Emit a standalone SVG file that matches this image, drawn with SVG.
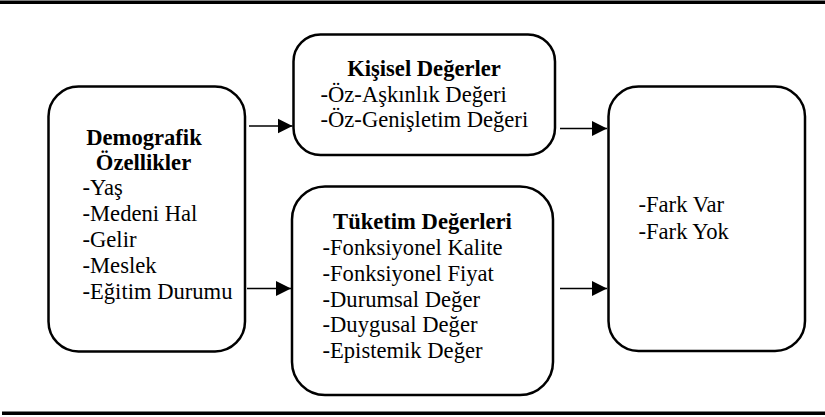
<svg xmlns="http://www.w3.org/2000/svg" width="825" height="417" viewBox="0 0 825 417">
<style>
.box{fill:#fff;stroke:#000;stroke-width:2.5}
text{font-family:'Liberation Serif','Times New Roman',serif;font-size:22.6px;fill:#000}
.h{font-weight:bold}
.c{text-anchor:middle}
.ln{stroke:#000;stroke-width:1.4;fill:none}
.rule{fill:#000}
</style>
<defs>
<marker id="ah" markerUnits="userSpaceOnUse" markerWidth="15" markerHeight="16" refX="15" refY="8" orient="auto">
<path d="M0,0.5 L15,8 L0,15.5 Z" fill="#000"/>
</marker>
</defs>
<rect class="rule" x="0" y="0.5" width="825" height="3.5"/>
<rect class="rule" x="2" y="411.5" width="823" height="3.5"/>
<g id="demografik">
<rect class="box" x="48.5" y="86.5" width="196.5" height="265" rx="30" ry="30"/>
<text class="h c" x="144" y="145">Demografik</text>
<text class="h c" x="143.5" y="170">Özellikler</text>
<text x="82.5" y="195">-Yaş</text>
<text x="82.5" y="221">-Medeni Hal</text>
<text x="82.5" y="247">-Gelir</text>
<text x="82.5" y="273">-Meslek</text>
<text x="82.5" y="299">-Eğitim Durumu</text>
</g>
<g id="kisisel">
<rect class="box" x="293.5" y="34.5" width="261.5" height="120.5" rx="27" ry="27"/>
<text class="h c" x="424" y="76">Kişisel Değerler</text>
<text x="320.5" y="101.5">-Öz-Aşkınlık Değeri</text>
<text x="320.5" y="127">-Öz-Genişletim Değeri</text>
</g>
<g id="tuketim">
<rect class="box" x="292" y="186.5" width="261" height="208.5" rx="33" ry="33"/>
<text class="h c" x="422.5" y="228.5">Tüketim Değerleri</text>
<text x="322.5" y="255">-Fonksiyonel Kalite</text>
<text x="322.5" y="280.5">-Fonksiyonel Fiyat</text>
<text x="322.5" y="306.5">-Durumsal Değer</text>
<text x="322.5" y="332">-Duygusal Değer</text>
<text x="322.5" y="358">-Epistemik Değer</text>
</g>
<g id="sonuc">
<rect class="box" x="608.5" y="86.5" width="196.5" height="264.5" rx="30" ry="30"/>
<text x="638.5" y="212">-Fark Var</text>
<text x="638.5" y="238.5">-Fark Yok</text>
</g>
<g id="connectors">
<line class="ln" x1="249" y1="126" x2="292.5" y2="126" marker-end="url(#ah)"/>
<line class="ln" x1="247" y1="288.5" x2="291" y2="288.5" marker-end="url(#ah)"/>
<line class="ln" x1="560" y1="128.5" x2="607" y2="128.5" marker-end="url(#ah)"/>
<line class="ln" x1="560" y1="288.5" x2="607" y2="288.5" marker-end="url(#ah)"/>
</g>
</svg>
